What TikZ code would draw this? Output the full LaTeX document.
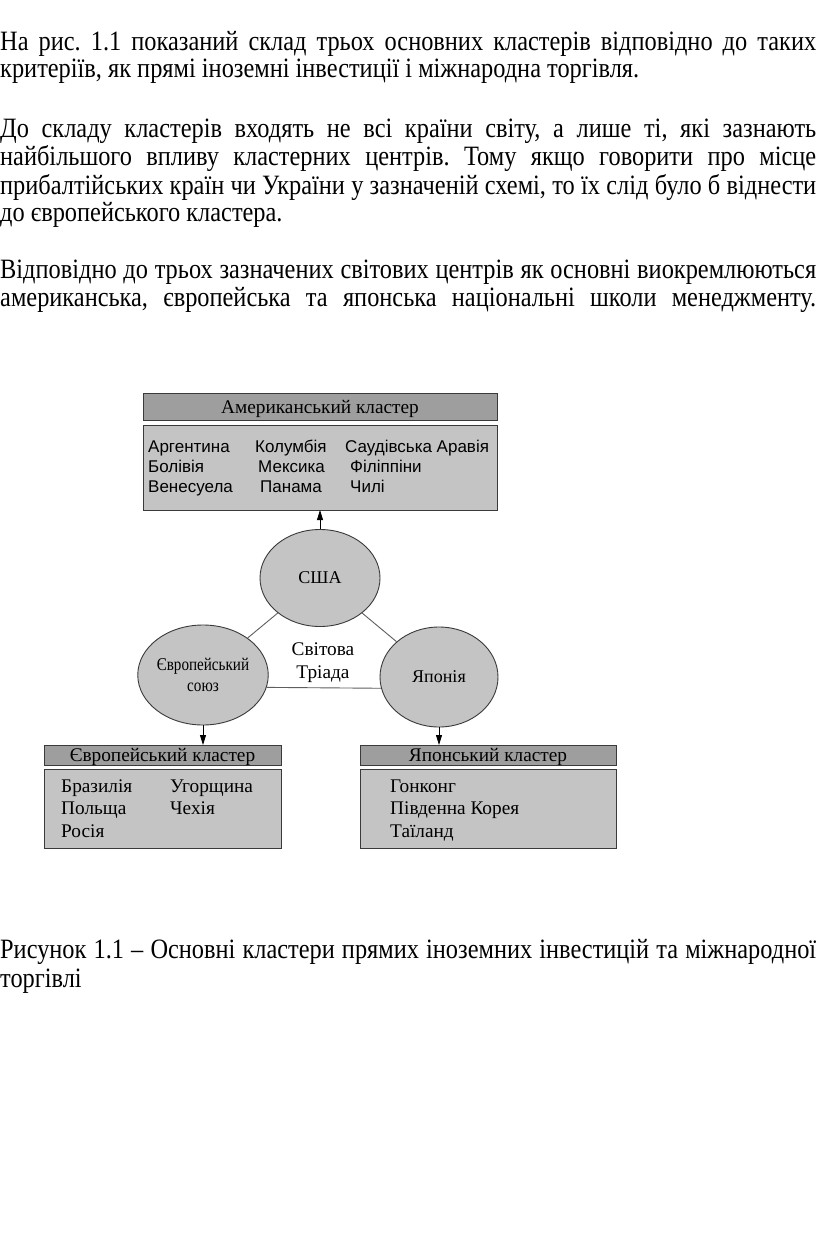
\documentclass[tikz,border=0pt]{standalone}
\usepackage{fontspec}
\setmainfont{Liberation Serif}
\setsansfont{Liberation Sans}
\newfontfamily\bodyfont[FakeStretch=0.87]{Liberation Serif}
\newfontfamily\narrowfont[FakeStretch=0.84]{Liberation Serif}
\usetikzlibrary{shapes.geometric,arrows.meta}
\definecolor{hdrgray}{HTML}{9E9E9E}
\definecolor{bodygray}{HTML}{C4C4C4}
\definecolor{edgegray}{HTML}{3A3A3A}
\definecolor{linegray}{HTML}{5E5E5E}
\frenchspacing
\tikzset{
  bodytext/.style={anchor=base west, inner sep=0pt, font=\bodyfont\fontsize{28}{28}\selectfont},
  hdrbox/.style={draw=edgegray, fill=hdrgray, line width=0.9pt},
  listbox/.style={draw=edgegray, fill=bodygray, line width=0.9pt},
  blob/.style={ellipse, draw=edgegray, fill=bodygray, line width=0.9pt, inner sep=0pt, font=\fontsize{18}{20}\selectfont, align=center},
  hdrtext/.style={anchor=base, inner sep=0pt, font=\fontsize{19.3}{22}\selectfont},
  sanstext/.style={anchor=base west, inner sep=0pt, font=\sffamily\fontsize{17}{20}\selectfont},
  sertext/.style={anchor=base west, inner sep=0pt, font=\fontsize{19.3}{22}\selectfont},
  link/.style={draw=linegray, line width=0.9pt},
  feed/.style={draw=black, line width=0.8pt, -{Triangle[length=10pt,width=6pt]}}
}
\begin{document}
\begin{tikzpicture}[x=1pt,y=-1pt]
\useasboundingbox (0,0) rectangle (816,1252);
\fill[white] (0,0) rectangle (816,1252);
% body text
\node[bodytext] (t1) at (0,51) {\makebox[816pt][s]{На рис. 1.1 показаний склад трьох основних кластерів відповідно до таких}};
\node[bodytext] (t2) at (0,78) {критеріїв, як прямі іноземні інвестиції і міжнародна торгівля.};
\node[bodytext] (t3) at (0,138) {\makebox[816pt][s]{До складу кластерів входять не всі країни світу, а лише ті, які зазнають}};
\node[bodytext] (t4) at (0,166) {\makebox[816pt][s]{найбільшого впливу кластерних центрів. Тому якщо говорити про місце}};
\node[bodytext] (t5) at (0,194) {\makebox[816pt][s]{прибалтійських країн чи України у зазначеній схемі, то їх слід було б віднести}};
\node[bodytext] (t6) at (0,222) {до європейського кластера.};
\node[bodytext] (t7) at (0,278) {\makebox[816pt][s]{Відповідно до трьох зазначених світових центрів як основні виокремлюються}};
\node[bodytext] (t8) at (0,306) {\makebox[816pt][s]{американська, європейська та японська національні школи менеджменту.}};
\node[bodytext] (t9) at (0,958) {\makebox[816pt][s]{Рисунок 1.1 – Основні кластери прямих іноземних інвестицій та міжнародної}};
\node[bodytext] (t10) at (0,987) {торгівлі};

% American cluster
\path[hdrbox] (143,393) rectangle (497,420);
\node[hdrtext] (amh) at (320,413) {Американський кластер};
\path[listbox] (143,425) rectangle (497,510);
\coordinate (ambot) at (320,510);
\node[sanstext] (a1) at (148,452) {Аргентина};
\node[sanstext] (a2) at (255,452) {Колумбія};
\node[sanstext] (a3) at (345,452) {Саудівська Аравія};
\node[sanstext] (a4) at (148,472) {Болівія};
\node[sanstext] (a5) at (258,472) {Мексика};
\node[sanstext] (a6) at (350,472) {Філіппіни};
\node[sanstext] (a7) at (148,492) {Венесуела};
\node[sanstext] (a8) at (260,492) {Панама};
\node[sanstext] (a9) at (350,492) {Чилі};

% Triad
\node[blob, minimum width=120pt, minimum height=97pt] (usa) at (320,578) {США};
\node[blob, minimum width=117pt, minimum height=100pt, font=\narrowfont\fontsize{18}{20}\selectfont] (eu) at (203,675) {Європейський\\[1pt]союз};
\node[blob, minimum width=118pt, minimum height=100pt] (jp) at (439,677) {Японія};
\node[anchor=center, inner sep=0pt, align=center, font=\fontsize{19.3}{23}\selectfont] (triad) at (323,663) {Світова\\Тріада};
\path[link] (usa) -- (eu);
\path[link] (usa) -- (jp);
\path[link] (eu.-11) -- (jp.191);
\path[feed] (usa.north) -- (ambot);

% European cluster
\path[hdrbox] (44,745) rectangle (281,765);
\node[hdrtext] (euh) at (162.5,761) {Європейський кластер};
\path[listbox] (44,769) rectangle (281,848);
\coordinate (eutop) at (203,745);
\path[feed] (eu.south) -- (eutop);
\node[sertext] (e1) at (61,792) {Бразилія};
\node[sertext] (e2) at (170,792) {Угорщина};
\node[sertext] (e3) at (61,814) {Польща};
\node[sertext] (e4) at (170,814) {Чехія};
\node[sertext] (e5) at (61,837) {Росія};

% Japanese cluster
\path[hdrbox] (360,745) rectangle (616,765);
\node[hdrtext] (jph) at (488,761) {Японський кластер};
\path[listbox] (360,769) rectangle (616,848);
\coordinate (jptop) at (439,745);
\path[feed] (jp.south) -- (jptop);
\node[sertext] (j1) at (390,792) {Гонконг};
\node[sertext] (j2) at (390,814) {Південна Корея};
\node[sertext] (j3) at (390,837) {Таїланд};
\end{tikzpicture}
\end{document}
